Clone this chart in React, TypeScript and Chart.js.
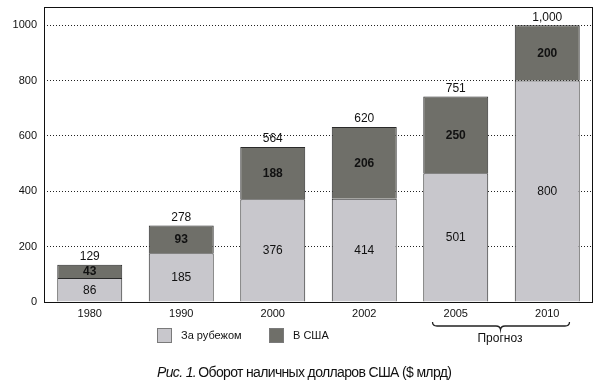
import React, { useEffect, useRef } from 'react';
import { Chart, registerables } from 'chart.js';

Chart.register(...registerables);

const FONT = "'Liberation Sans', Arial, Helvetica, sans-serif";

// categories and series (bar heights as drawn in the picture)
const categories = ['1980', '1990', '2000', '2002', '2005', '2010'];
const abroadValues = [87, 176, 371, 373, 465, 800];
const usValues = [48, 100, 189, 259, 278, 200];

// printed labels
const abroadLabels = ['86', '185', '376', '414', '501', '800'];
const usLabels = ['43', '93', '188', '206', '250', '200'];
const totalLabels = ['129', '278', '564', '620', '751', '1,000'];

const seriesNames = ['За рубежом', 'В США'];
const forecastLabel = 'Прогноз';
const captionItalic = 'Рис. 1.';
const captionRest = ' Оборот наличных долларов США ($ млрд)';
const yTicks = [0, 200, 400, 600, 800, 1000];

const LIGHT = '#c8c7cc';
const DARK = '#6f6f69';

export default function App() {
  const ref = useRef<HTMLCanvasElement>(null);

  useEffect(() => {
    document.body.style.margin = '0';
    const canvas = ref.current!;

    const overlay = {
      id: 'overlay',
      afterDatasetsDraw(chart: any) {
        const c = chart.ctx as CanvasRenderingContext2D;
        c.save();
        c.textAlign = 'center';
        c.textBaseline = 'middle';
        c.fillStyle = '#111';
        const m0 = chart.getDatasetMeta(0);
        const m1 = chart.getDatasetMeta(1);
        m0.data.forEach((el: any, i: number) => {
          const { x, y, base } = el.getProps(['x', 'y', 'base'], true);
          c.font = `12px ${FONT}`;
          c.fillText(abroadLabels[i], x, (y + base) / 2 + 0.5);
        });
        m1.data.forEach((el: any, i: number) => {
          const { x, y, base } = el.getProps(['x', 'y', 'base'], true);
          c.font = `bold 12px ${FONT}`;
          c.fillText(usLabels[i], x, (y + base) / 2 + 0.5);
          c.font = `12px ${FONT}`;
          c.fillText(totalLabels[i], x, y - 8);
        });
        c.restore();
      },
      afterDraw(chart: any) {
        const c = chart.ctx as CanvasRenderingContext2D;
        const a = chart.chartArea;
        c.save();
        // frame
        c.strokeStyle = '#111';
        c.lineWidth = 1;
        c.strokeRect(a.left + 0.5, a.top + 0.5, a.right - a.left - 1, a.bottom - a.top);

        // legend
        const boxes = [
          { x: 157, color: LIGHT, text: seriesNames[0], tx: 181 },
          { x: 269, color: DARK, text: seriesNames[1], tx: 293 },
        ];
        c.font = `11px ${FONT}`;
        c.textBaseline = 'middle';
        c.textAlign = 'left';
        boxes.forEach((b) => {
          c.fillStyle = b.color;
          c.fillRect(b.x, 328, 15, 15);
          c.strokeStyle = '#7a7a7a';
          c.strokeRect(b.x + 0.5, 328.5, 14, 14);
          c.fillStyle = '#111';
          c.fillText(b.text, b.tx, 335.5);
        });

        // forecast brace
        c.strokeStyle = '#222';
        c.lineWidth = 1.3;
        c.beginPath();
        c.moveTo(432.5, 322);
        c.quadraticCurveTo(432.5, 326, 437, 326);
        c.lineTo(496, 326);
        c.quadraticCurveTo(500, 326, 500.5, 329.5);
        c.quadraticCurveTo(501, 326, 505, 326);
        c.lineTo(565, 326);
        c.quadraticCurveTo(569.5, 326, 569.5, 322);
        c.stroke();
        c.fillStyle = '#111';
        c.textAlign = 'center';
        c.font = `12px ${FONT}`;
        c.fillText(forecastLabel, 500, 338.5);

        // caption
        c.textAlign = 'left';
        c.textBaseline = 'alphabetic';
        (c as any).letterSpacing = '-0.65px';
        c.font = `italic 14px ${FONT}`;
        c.fillText(captionItalic, 157, 377);
        const w = c.measureText(captionItalic).width;
        c.font = `14px ${FONT}`;
        c.fillText(captionRest, 157 + w - 1, 377);
        c.restore();
      },
    };

    const chart = new Chart(canvas, {
      type: 'bar',
      data: {
        labels: categories,
        datasets: [
          {
            label: seriesNames[0],
            data: abroadValues,
            backgroundColor: LIGHT,
            borderColor: '#2a2a2a',
            borderWidth: { left: 1, right: 1, top: 1, bottom: 0 },
            borderSkipped: false,
            barPercentage: 0.71,
            categoryPercentage: 1,
          },
          {
            label: seriesNames[1],
            data: usValues,
            backgroundColor: DARK,
            borderColor: '#2a2a2a',
            borderWidth: { left: 1, right: 1, top: 1, bottom: 0 },
            borderSkipped: false,
            barPercentage: 0.71,
            categoryPercentage: 1,
          },
        ],
      },
      options: {
        responsive: false,
        animation: false,
        devicePixelRatio: 1,
        layout: { padding: { left: 0, top: 7, right: 11, bottom: 0 } },
        plugins: {
          legend: { display: false },
          tooltip: { enabled: false },
          title: { display: false },
        },
        scales: {
          x: {
            stacked: true,
            grid: { display: false, drawTicks: false },
            border: { display: false },
            ticks: { color: '#111', font: { family: FONT, size: 11 }, padding: 5, maxRotation: 0 },
            afterFit(scale: any) {
              scale.height = 85;
              scale.paddingLeft = 0;
              scale.paddingRight = 0;
            },
          },
          y: {
            stacked: true,
            min: 0,
            max: 1066,
            grid: { color: '#222', lineWidth: 1, drawTicks: false },
            border: { display: false, dash: [1, 2] },
            ticks: {
              stepSize: 200,
              color: '#111',
              padding: 7,
              font: { family: FONT, size: 11 },
              callback: (v: any) => String(v),
            },
            afterBuildTicks(scale: any) {
              scale.ticks = yTicks.map((v) => ({ value: v }));
            },
            afterFit(scale: any) {
              scale.width = 44;
              scale.paddingTop = 0;
              scale.paddingBottom = 0;
            },
          },
        },
      },
      plugins: [overlay],
    } as any);

    return () => chart.destroy();
  }, []);

  return (
    <div style={{ position: 'absolute', left: 0, top: 0, width: 604, height: 387, background: '#fff' }}>
      <canvas ref={ref} width={604} height={387} />
    </div>
  );
}
